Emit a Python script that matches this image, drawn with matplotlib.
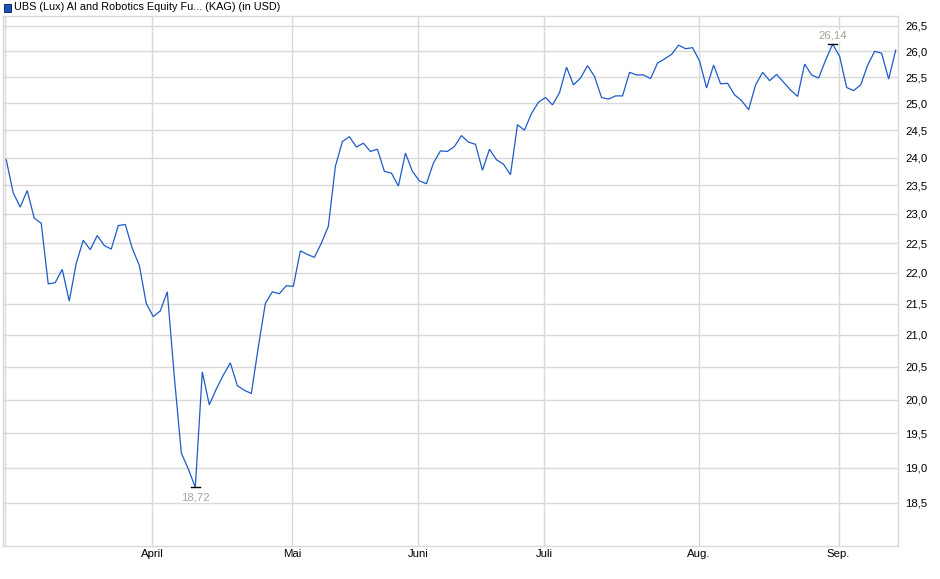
#!/usr/bin/env python

import numpy as np
import matplotlib
matplotlib.use('Agg')
import matplotlib.pyplot as plt
from matplotlib.ticker import FixedLocator, NullLocator, FuncFormatter
from matplotlib.patches import Rectangle


# constants
TITLE = 'UBS (Lux) AI and Robotics Equity Fu... (KAG) (in USD)'
LINE_COLOR = '#1f5bc6'
GRID_COLOR = '#d9d9d9'
LABEL_COLOR = '#aaa297'

# daily prices (trading days)
prices = [
    23.96, 23.37, 23.12, 23.41, 22.93, 22.84, 21.82, 21.84, 22.06, 21.54,
    22.16, 22.55, 22.39, 22.63, 22.46, 22.40, 22.80, 22.82, 22.41, 22.13,
    21.50, 21.29, 21.38, 21.69, 20.35, 19.21, 18.98, 18.72, 20.42, 19.92,
    20.16, 20.37, 20.56, 20.21, 20.14, 20.09, 20.81, 21.50, 21.69, 21.66,
    21.79, 21.78, 22.37, 22.31, 22.26, 22.50, 22.79, 23.84, 24.29, 24.38,
    24.19, 24.26, 24.11, 24.15, 23.75, 23.72, 23.49, 24.08, 23.75, 23.58,
    23.53, 23.90, 24.12, 24.11, 24.20, 24.40, 24.28, 24.24, 23.77, 24.15,
    23.96, 23.88, 23.69, 24.60, 24.50, 24.81, 25.02, 25.11, 24.97, 25.20,
    25.69, 25.35, 25.48, 25.72, 25.51, 25.11, 25.08, 25.14, 25.14, 25.59,
    25.54, 25.54, 25.47, 25.77, 25.85, 25.94, 26.12, 26.05, 26.07, 25.81,
    25.29, 25.73, 25.37, 25.38, 25.16, 25.05, 24.88, 25.35, 25.59, 25.43,
    25.55, 25.40, 25.25, 25.13, 25.75, 25.54, 25.48, 25.83, 26.14, 25.90,
    25.30, 25.24, 25.35, 25.73, 26.00, 25.96, 25.46, 26.02,
]

# first trading day of each month (index into prices)
month_starts = [0, 21, 41, 59, 77, 99, 119]
month_labels = ['', 'April', 'Mai', 'Juni', 'Juli', 'Aug.', 'Sep.']

y_ticks = [18.5, 19.0, 19.5, 20.0, 20.5, 21.0, 21.5, 22.0, 22.5,
           23.0, 23.5, 24.0, 24.5, 25.0, 25.5, 26.0, 26.5]


def comma(v, _pos=None, digits=1):
    return f'{v:.{digits}f}'.replace('.', ',')


def draw_chart(ax, values):
    x = np.arange(len(values))
    ax.plot(x, values, color=LINE_COLOR, lw=0.9, solid_joinstyle='miter', zorder=3)

    # min / max markers
    for idx, above in ((int(np.argmin(values)), False), (int(np.argmax(values)), True)):
        v = values[idx]
        ax.plot([idx - 0.65, idx + 0.65], [v, v], color='black', lw=1.0, zorder=4)
        ax.annotate(comma(v, digits=2), (idx, v),
                    xytext=(0, 2.5 if above else -3.5), textcoords='offset points',
                    ha='center', va='bottom' if above else 'top',
                    fontsize=8.2, color=LABEL_COLOR, zorder=5,
                    bbox=dict(boxstyle='square,pad=0.1', fc='white', ec='none'))

    ax.set_yscale('log')
    ax.set_ylim(17.91, 26.70)
    ax.set_xlim(-0.5, len(values) - 1 + 0.33)

    ax.yaxis.set_major_locator(FixedLocator(y_ticks))
    ax.yaxis.set_minor_locator(NullLocator())
    ax.yaxis.set_major_formatter(FuncFormatter(comma))
    ax.yaxis.tick_right()

    ax.xaxis.set_major_locator(FixedLocator([m - 0.15 for m in month_starts]))
    ax.xaxis.set_minor_locator(NullLocator())
    ax.set_xticklabels(month_labels)

    ax.grid(True, color=GRID_COLOR, lw=1.0, zorder=0)
    ax.set_axisbelow(True)
    for s in ax.spines.values():
        s.set_color(GRID_COLOR)
        s.set_linewidth(1.0)
    ax.tick_params(axis='y', length=0, pad=5, labelsize=8.2, colors='black')
    ax.tick_params(axis='x', length=0, pad=2, labelsize=8.2, colors='black')


if __name__ == '__main__':
    plt.rcParams['font.family'] = ['Liberation Sans', 'DejaVu Sans']

    fig = plt.figure(figsize=(9.4, 5.79), dpi=100)
    ax = fig.add_axes([2.7 / 940, 33 / 579, 895.3 / 940, 530 / 579])
    draw_chart(ax, prices)

    # legend square + title
    fig.patches.append(Rectangle((3.5 / 940, 1 - 11.5 / 579), 7 / 940, 7 / 579,
                                 transform=fig.transFigure, fc='#1a55bb', ec='#102a5a', lw=0.7))
    fig.text(14 / 940, 1 - 7.5 / 579, TITLE, fontsize=7.8, va='center', ha='left')

    fig.savefig('out.png', dpi=100)
